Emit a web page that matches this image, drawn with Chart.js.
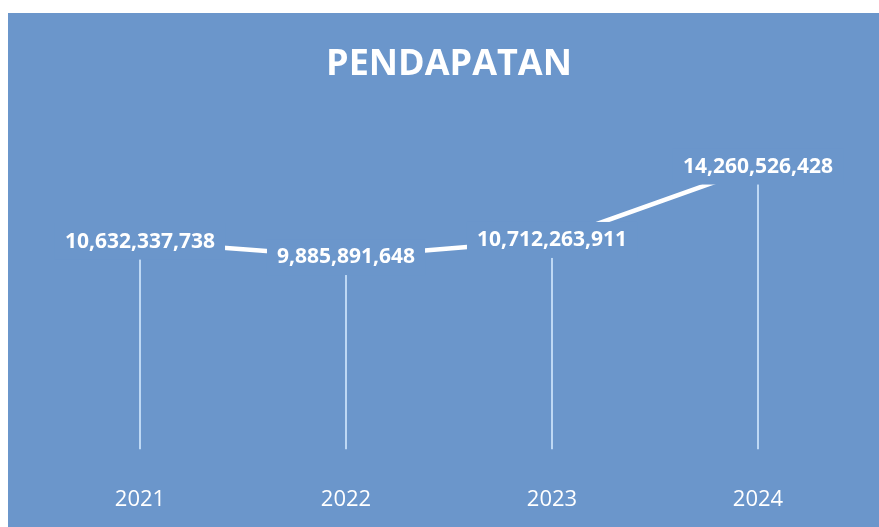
<!DOCTYPE html>
<html lang="en">

<head>
    <meta charset="UTF-8">
    <title>Pendapatan</title>
    <style>
        html, body { margin: 0; padding: 0; background: #ffffff; width: 879px; height: 527px; overflow: hidden; }
        #panel { position: absolute; left: 8px; top: 13px; width: 871px; height: 514px; background: #6b96cb; overflow: hidden; }
    </style>
</head>

<body>
    <div id="panel">
        <canvas id="myChart" width="871" height="529"></canvas>
    </div>

    <script src="https://cdn.jsdelivr.net/npm/chart.js"></script>
    <script>
        const years = ['2021', '2022', '2023', '2024']
        const pendapatan = [10632337738, 9885891648, 10712263911, 14260526428]
        const chartTitle = 'PENDAPATAN'

        const bgColor = '#6b96cb'
        const dropBase = 0.6e9

        // thin vertical lines from each point downward
        const dropLines = {
            id: 'dropLines',
            beforeDatasetsDraw(chart) {
                const c = chart.ctx, y = chart.scales.y
                c.save()
                c.strokeStyle = 'rgba(205,228,252,0.85)'
                c.lineWidth = 2
                chart.getDatasetMeta(0).data.forEach(p => {
                    c.beginPath()
                    c.moveTo(p.x, p.y)
                    c.lineTo(p.x, y.getPixelForValue(dropBase))
                    c.stroke()
                })
                c.restore()
            }
        }

        // value labels with a box of the background colour, covering the line
        const valueLabels = {
            id: 'valueLabels',
            afterDatasetsDraw(chart) {
                const c = chart.ctx
                c.save()
                c.font = 'bold 21px "Open Sans"'
                c.textAlign = 'center'
                c.textBaseline = 'middle'
                chart.getDatasetMeta(0).data.forEach((p, i) => {
                    const txt = pendapatan[i].toLocaleString('en-US')
                    const w = c.measureText(txt).width
                    c.fillStyle = bgColor
                    c.fillRect(p.x - w / 2 - 10, p.y - 18, w + 20, 36)
                    c.fillStyle = '#ffffff'
                    c.fillText(txt, p.x, p.y)
                })
                c.restore()
            }
        }

        const ctx = document.getElementById('myChart')
        myChart = new Chart(ctx, {
            type: 'line',
            data: {
                labels: years,
                datasets: [{
                    data: pendapatan,
                    borderColor: '#ffffff',
                    borderWidth: 4.5,
                    pointRadius: 0,
                    tension: 0
                }]
            },
            options: {
                responsive: false,
                animation: false,
                layout: { padding: { left: 29, right: 18, top: 0, bottom: 12 } },
                plugins: {
                    legend: { display: false },
                    tooltip: { enabled: false },
                    title: {
                        display: true,
                        text: chartTitle,
                        color: '#ffffff',
                        font: { family: 'Open Sans', size: 36, weight: 'bold' },
                        padding: { top: 30, bottom: 16 }
                    }
                },
                scales: {
                    x: {
                        offset: true,
                        grid: { display: false },
                        border: { display: false },
                        ticks: {
                            color: '#ffffff',
                            padding: 17,
                            font: { family: 'Open Sans', size: 22 }
                        }
                    },
                    y: {
                        display: false,
                        min: 0,
                        max: 17.37e9
                    }
                }
            },
            plugins: [dropLines, valueLabels]
        });
    </script>
</body>

</html>
